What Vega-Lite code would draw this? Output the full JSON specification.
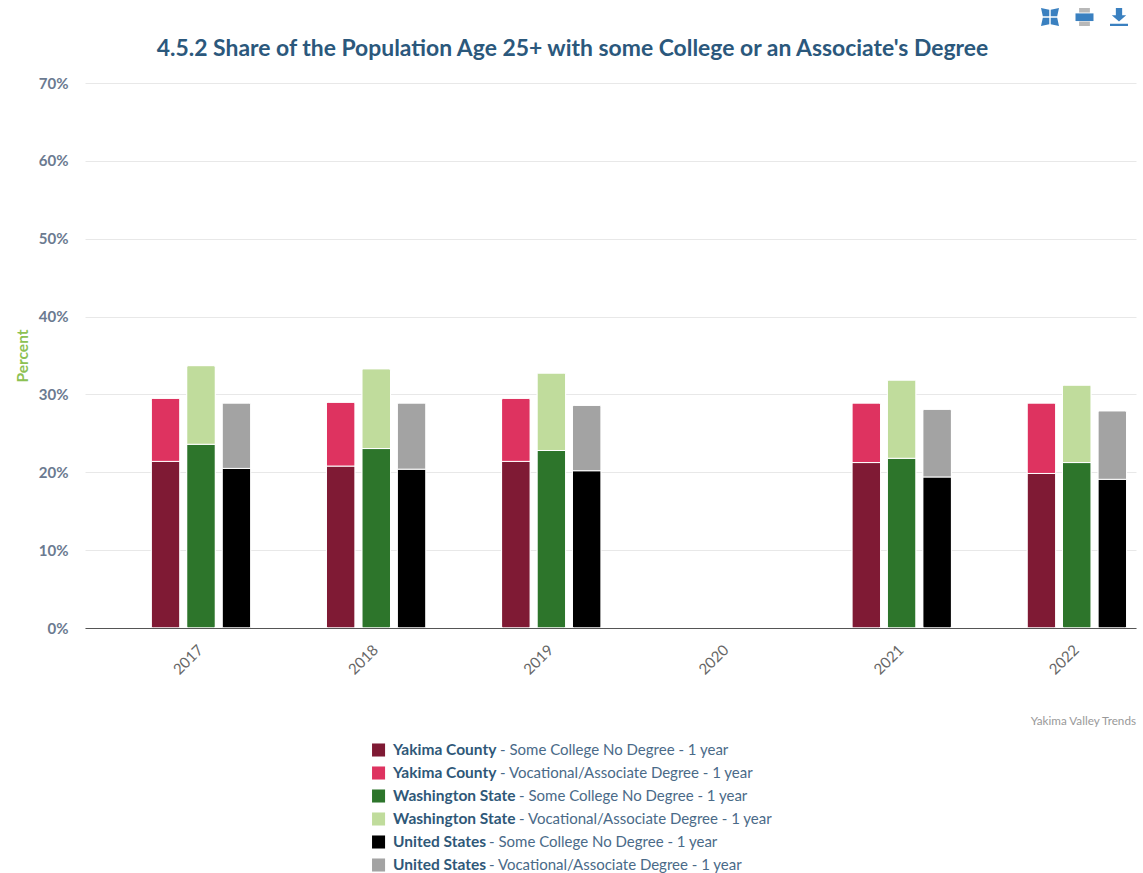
{
"$schema":"https://vega.github.io/schema/vega-lite/v6.json",
"background":"white",
"padding":{"left":15,"right":7,"top":0,"bottom":0},
"spacing":4,
"config":{"view":{"stroke":null},"font":"Lato"},
"resolve":{"scale":{"color":"independent","shape":"independent","x":"independent","y":"independent"}},
"datasets":{
"bars":[
{"year":"2017","geography":"Yakima County","type":"Some College No Degree","value":21.4,"series":"Yakima County - Some College No Degree - 1 year","rank":1},
{"year":"2017","geography":"Yakima County","type":"Vocational/Associate Degree","value":8.1,"series":"Yakima County - Vocational/Associate Degree - 1 year","rank":2},
{"year":"2017","geography":"Washington State","type":"Some College No Degree","value":23.6,"series":"Washington State - Some College No Degree - 1 year","rank":1},
{"year":"2017","geography":"Washington State","type":"Vocational/Associate Degree","value":10.1,"series":"Washington State - Vocational/Associate Degree - 1 year","rank":2},
{"year":"2017","geography":"United States","type":"Some College No Degree","value":20.5,"series":"United States - Some College No Degree - 1 year","rank":1},
{"year":"2017","geography":"United States","type":"Vocational/Associate Degree","value":8.4,"series":"United States - Vocational/Associate Degree - 1 year","rank":2},
{"year":"2018","geography":"Yakima County","type":"Some College No Degree","value":20.8,"series":"Yakima County - Some College No Degree - 1 year","rank":1},
{"year":"2018","geography":"Yakima County","type":"Vocational/Associate Degree","value":8.2,"series":"Yakima County - Vocational/Associate Degree - 1 year","rank":2},
{"year":"2018","geography":"Washington State","type":"Some College No Degree","value":23.05,"series":"Washington State - Some College No Degree - 1 year","rank":1},
{"year":"2018","geography":"Washington State","type":"Vocational/Associate Degree","value":10.25,"series":"Washington State - Vocational/Associate Degree - 1 year","rank":2},
{"year":"2018","geography":"United States","type":"Some College No Degree","value":20.4,"series":"United States - Some College No Degree - 1 year","rank":1},
{"year":"2018","geography":"United States","type":"Vocational/Associate Degree","value":8.5,"series":"United States - Vocational/Associate Degree - 1 year","rank":2},
{"year":"2019","geography":"Yakima County","type":"Some College No Degree","value":21.4,"series":"Yakima County - Some College No Degree - 1 year","rank":1},
{"year":"2019","geography":"Yakima County","type":"Vocational/Associate Degree","value":8.1,"series":"Yakima County - Vocational/Associate Degree - 1 year","rank":2},
{"year":"2019","geography":"Washington State","type":"Some College No Degree","value":22.8,"series":"Washington State - Some College No Degree - 1 year","rank":1},
{"year":"2019","geography":"Washington State","type":"Vocational/Associate Degree","value":9.95,"series":"Washington State - Vocational/Associate Degree - 1 year","rank":2},
{"year":"2019","geography":"United States","type":"Some College No Degree","value":20.2,"series":"United States - Some College No Degree - 1 year","rank":1},
{"year":"2019","geography":"United States","type":"Vocational/Associate Degree","value":8.4,"series":"United States - Vocational/Associate Degree - 1 year","rank":2},
{"year":"2021","geography":"Yakima County","type":"Some College No Degree","value":21.25,"series":"Yakima County - Some College No Degree - 1 year","rank":1},
{"year":"2021","geography":"Yakima County","type":"Vocational/Associate Degree","value":7.65,"series":"Yakima County - Vocational/Associate Degree - 1 year","rank":2},
{"year":"2021","geography":"Washington State","type":"Some College No Degree","value":21.8,"series":"Washington State - Some College No Degree - 1 year","rank":1},
{"year":"2021","geography":"Washington State","type":"Vocational/Associate Degree","value":10.05,"series":"Washington State - Vocational/Associate Degree - 1 year","rank":2},
{"year":"2021","geography":"United States","type":"Some College No Degree","value":19.4,"series":"United States - Some College No Degree - 1 year","rank":1},
{"year":"2021","geography":"United States","type":"Vocational/Associate Degree","value":8.7,"series":"United States - Vocational/Associate Degree - 1 year","rank":2},
{"year":"2022","geography":"Yakima County","type":"Some College No Degree","value":19.85,"series":"Yakima County - Some College No Degree - 1 year","rank":1},
{"year":"2022","geography":"Yakima County","type":"Vocational/Associate Degree","value":9.05,"series":"Yakima County - Vocational/Associate Degree - 1 year","rank":2},
{"year":"2022","geography":"Washington State","type":"Some College No Degree","value":21.25,"series":"Washington State - Some College No Degree - 1 year","rank":1},
{"year":"2022","geography":"Washington State","type":"Vocational/Associate Degree","value":9.95,"series":"Washington State - Vocational/Associate Degree - 1 year","rank":2},
{"year":"2022","geography":"United States","type":"Some College No Degree","value":19.1,"series":"United States - Some College No Degree - 1 year","rank":1},
{"year":"2022","geography":"United States","type":"Vocational/Associate Degree","value":8.8,"series":"United States - Vocational/Associate Degree - 1 year","rank":2}
],
"legend":[
{"series":"Yakima County - Some College No Degree - 1 year","geography":"Yakima County","rest":"- Some College No Degree - 1 year"},
{"series":"Yakima County - Vocational/Associate Degree - 1 year","geography":"Yakima County","rest":"- Vocational/Associate Degree - 1 year"},
{"series":"Washington State - Some College No Degree - 1 year","geography":"Washington State","rest":"- Some College No Degree - 1 year"},
{"series":"Washington State - Vocational/Associate Degree - 1 year","geography":"Washington State","rest":"- Vocational/Associate Degree - 1 year"},
{"series":"United States - Some College No Degree - 1 year","geography":"United States","rest":"- Some College No Degree - 1 year"},
{"series":"United States - Vocational/Associate Degree - 1 year","geography":"United States","rest":"- Vocational/Associate Degree - 1 year"}
],
"icons":[
{"icon":"expand","part":"expand"},
{"icon":"print","part":"print body"},
{"icon":"print","part":"print paper"},
{"icon":"download","part":"download"}
]
},
"vconcat":[
{
"width":1051,"height":34,
"data":{"name":"icons"},
"mark":{"type":"point","filled":true,"opacity":1,"size":324},
"encoding":{
"x":{"field":"icon","type":"nominal","axis":null,"scale":{"type":"point","padding":0,"domain":["expand","print","download"],"range":[965,1034]}},
"shape":{"field":"part","type":"nominal","legend":null,"scale":{"domain":["expand","print body","print paper","download"],"range":[
"M-1 -1 L-0.08 -0.8 L-0.08 -0.08 L-0.8 -0.08 Z M1 -1 L0.8 -0.08 L0.08 -0.08 L0.08 -0.8 Z M1 1 L0.08 0.8 L0.08 0.08 L0.8 0.08 Z M-1 1 L-0.8 0.08 L-0.08 0.08 L-0.08 0.8 Z",
"M-1 -0.4 H1 V0.45 H-1 Z",
"M-0.6 -1 H0.6 V-0.5 H-0.6 Z M-0.6 0.5 H0.6 V1 H-0.6 Z",
"M-0.35 -1 H0.35 V-0.2 H0.8 L0 0.5 L-0.8 -0.2 H-0.35 Z M-1 0.75 H1 V1 H-1 Z"]}},
"color":{"field":"part","type":"nominal","legend":null,"scale":{"domain":["expand","print body","print paper","download"],"range":["#3a80c0","#3a80c0","#b8b8b8","#3a80c0"]}}
}
},
{
"width":1051,"height":545,
"title":{"text":"4.5.2 Share of the Population Age 25+ with some College or an Associate's Degree","font":"Lato","fontSize":22.9,"fontWeight":"bold","color":"#2b587c","anchor":"middle","dx":-38,"offset":15},
"data":{"name":"bars"},
"mark":{"type":"bar","stroke":"white","strokeWidth":1,"cornerRadius":2},
"encoding":{
"x":{"field":"year","type":"nominal","scale":{"domain":["2017","2018","2019","2020","2021","2022"],"paddingInner":0,"paddingOuter":0,"round":false},
"axis":{"title":null,"labelAngle":-45,"labelFont":"Lato","labelFontSize":15,"labelColor":"#666666","labelPadding":14,"labelOffset":23,"ticks":false,"domainColor":"#555555","domain":true,"grid":false,"minExtent":84,"zindex":1}},
"xOffset":{"field":"geography","type":"nominal","scale":{"domain":["Yakima County","Washington State","United States"],"range":[30.8,201.2],"paddingInner":0.19,"paddingOuter":1,"round":false}},
"y":{"field":"value","type":"quantitative","stack":"zero","scale":{"domain":[0,70],"nice":false},
"axis":{"title":"Percent","titleColor":"#8cc152","titleFont":"Lato","titleFontSize":15.5,"titleFontWeight":"bold","titlePadding":8,"values":[0,10,20,30,40,50,60,70],"labelExpr":"datum.value + '%'","labelFont":"Lato","labelFontSize":15,"labelFontWeight":"bold","labelColor":"#6b7a90","labelPadding":17,"ticks":false,"domain":false,"gridColor":"#e8e8e8"}},
"color":{"field":"series","type":"nominal","legend":null,"scale":{"domain":["Yakima County - Some College No Degree - 1 year","Yakima County - Vocational/Associate Degree - 1 year","Washington State - Some College No Degree - 1 year","Washington State - Vocational/Associate Degree - 1 year","United States - Some College No Degree - 1 year","United States - Vocational/Associate Degree - 1 year"],"range":["#7f1a34","#de3360","#2d752b","#c0dc9c","#000000","#a3a3a3"]}},
"order":{"field":"rank","type":"quantitative"}
}
},
{
"width":1051,"height":130,
"title":{"text":"Yakima Valley Trends","font":"Lato","fontSize":11.7,"fontWeight":"normal","color":"#999999","anchor":"end","offset":13},
"data":{"name":"legend"},
"encoding":{
"x":{"datum":"legend","type":"nominal","axis":null,"scale":{"type":"point","padding":0,"domain":["legend"],"range":[293.5,293.6]}},
"y":{"field":"series","type":"nominal","axis":null,"sort":null,"scale":{"type":"point","padding":0,"domain":["Yakima County - Some College No Degree - 1 year","Yakima County - Vocational/Associate Degree - 1 year","Washington State - Some College No Degree - 1 year","Washington State - Vocational/Associate Degree - 1 year","United States - Some College No Degree - 1 year","United States - Vocational/Associate Degree - 1 year"],"range":[9,124]}}
},
"layer":[
{"mark":{"type":"square","size":170,"opacity":1},
"encoding":{"color":{"field":"series","type":"nominal","legend":null,"scale":{"domain":["Yakima County - Some College No Degree - 1 year","Yakima County - Vocational/Associate Degree - 1 year","Washington State - Some College No Degree - 1 year","Washington State - Vocational/Associate Degree - 1 year","United States - Some College No Degree - 1 year","United States - Vocational/Associate Degree - 1 year"],"range":["#7f1a34","#de3360","#2d752b","#c0dc9c","#000000","#a3a3a3"]}}}},
{"mark":{"type":"text","align":"left","dx":14.5,"fontSize":15.5,"fontWeight":"bold","font":"Lato","color":"#2f5878"},
"encoding":{"text":{"field":"geography"}}},
{"mark":{"type":"text","align":"left","dx":{"expr":"datum.geography === 'Yakima County' ? 121.5 : datum.geography === 'Washington State' ? 140.5 : 110.5"},"fontSize":15,"font":"Lato","color":"#4a6a88"},
"encoding":{"text":{"field":"rest"}}}
]
}
]
}
